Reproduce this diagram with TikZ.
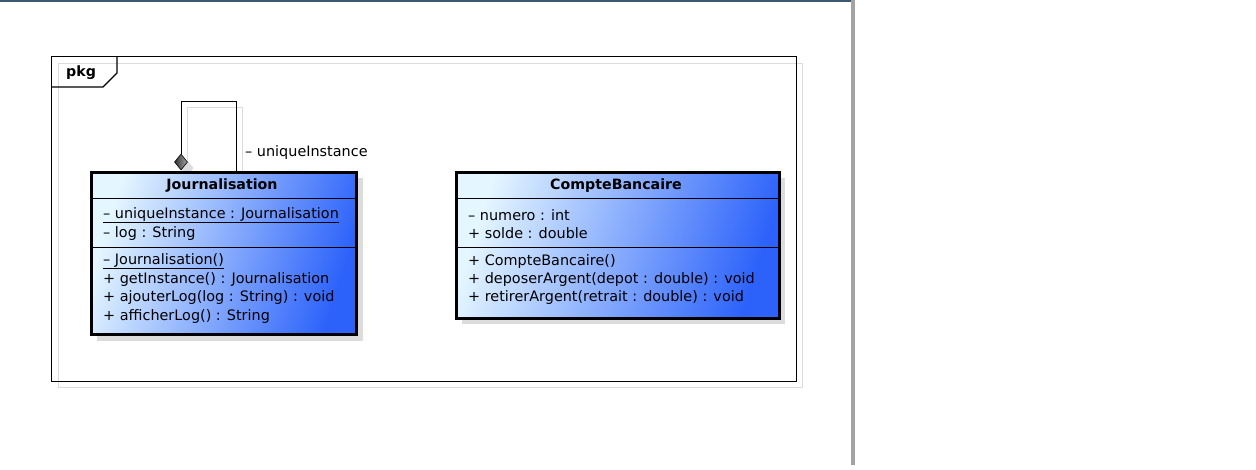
\documentclass[tikz,border=0pt]{standalone}
\usepackage{fontspec}
\setmainfont{DejaVu Sans}
\usetikzlibrary{positioning,shapes.geometric}
\definecolor{classlight}{HTML}{E4F6FF}
\definecolor{classdark}{HTML}{2C62FA}
\definecolor{shadowgray}{HTML}{DCDCDC}
\definecolor{topbar}{HTML}{3B5874}
\definecolor{sidebar}{HTML}{A3A3A3}

\begin{document}
\begin{tikzpicture}[x=1pt,y=-1pt,
  classbox/.style={draw=black,line width=2.6pt,top color=classlight,bottom color=classdark,shading angle=72,inner sep=0pt,anchor=north west},
  member/.style={anchor=west,inner sep=0pt,font=\fontsize{14.4}{16}\selectfont},
  title/.style={inner sep=0pt,font=\fontsize{14.2}{16}\selectfont\bfseries}]
\useasboundingbox (0,0) rectangle (1256,469);
\fill[white] (0,0) rectangle (1256,469);
\draw[topbar,line width=2pt] (0,1)--(851,1);
\fill[sidebar] (851,0) rectangle (855,465);
% package
\draw[shadowgray] (58,63) rectangle (802,387);
\node[draw,line width=1.1pt,minimum width=745pt,minimum height=325pt,anchor=north west,inner sep=0pt] (pkg) at (51,56) {};
\draw[line width=1.1pt] (51,87)--(103,87)--(117,73)--(117,56);
\node[title,anchor=west] (pkgname) at (66,73) {pkg};
% shadows
\fill[shadowgray] (97,178) rectangle (363,341);
\fill[shadowgray] (462,178) rectangle (785,324);
\draw[shadowgray] (187,160)--(187,107)--(242,107)--(242,171);
\fill[shadowgray] (187,160)--(193.5,168)--(187,176)--(180.5,168)--cycle;
% Journalisation
\node[classbox,minimum width=265pt,minimum height=162pt] (journal) at (90,171) {};
\node[title] (journaltitle) at (222,186) {Journalisation};
\draw (90,198)--(355,198);
\draw (90,247)--(355,247);
\foreach \txt [count=\i] in {\underline{– uniqueInstance : Journalisation},– log : String}
  \node[member] (ja\i) at (103,197+18.3*\i) {\txt};
\foreach \txt [count=\i] in {\underline{– Journalisation()},+ getInstance() : Journalisation,+ ajouterLog(log : String) : void,+ afficherLog() : String}
  \node[member] (jm\i) at (103,243+18.3*\i) {\txt};
% CompteBancaire
\node[classbox,minimum width=323pt,minimum height=146pt] (compte) at (455,171) {};
\node[title] (comptetitle) at (616,186) {CompteBancaire};
\draw (455,198)--(778,198);
\draw (455,247)--(778,247);
\foreach \txt [count=\i] in {– numero : int,+ solde : double}
  \node[member] (ca\i) at (468,197+18.3*\i) {\txt};
\foreach \txt [count=\i] in {+ CompteBancaire(),+ deposerArgent(depot : double) : void,+ retirerArgent(retrait : double) : void}
  \node[member] (cm\i) at (468,243+18.3*\i) {\txt};
% self association
\node[diamond,draw=black,line width=0.6pt,left color=black!80,right color=black!35,minimum width=13pt,minimum height=16pt,inner sep=0pt] (agg) at (181,162) {};
\coordinate (selfend) at (236,171);
\draw (agg.north)--(181,101)--(236,101)--(selfend);
\node[member] (rolename) at (245,153) {– uniqueInstance};
\end{tikzpicture}
\end{document}
